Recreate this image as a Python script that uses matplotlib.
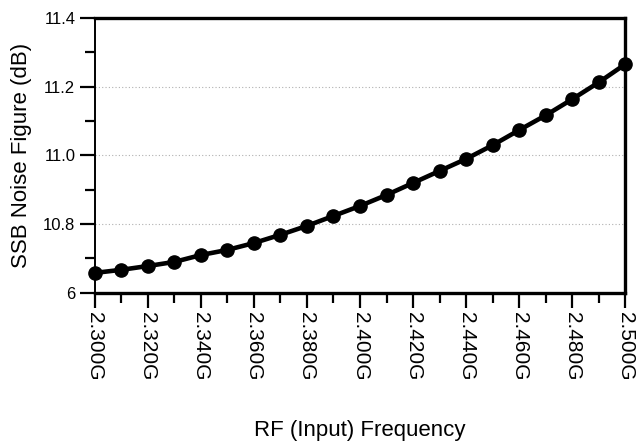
import matplotlib

matplotlib.use("Agg")
import matplotlib.pyplot as plt
from matplotlib.ticker import FixedLocator, MultipleLocator

plt.rcParams["font.family"] = ["Liberation Sans", "DejaVu Sans"]

# RF frequency in GHz and SSB noise figure in dB
freq_ghz = [2.30, 2.31, 2.32, 2.33, 2.34, 2.35, 2.36, 2.37, 2.38, 2.39, 2.40,
            2.41, 2.42, 2.43, 2.44, 2.45, 2.46, 2.47, 2.48, 2.49, 2.50]
nf_db = [10.658, 10.667, 10.678, 10.690, 10.710, 10.725, 10.745, 10.769,
         10.795, 10.824, 10.853, 10.885, 10.920, 10.955, 10.990, 11.030,
         11.074, 11.117, 11.164, 11.213, 11.266]

x_ticks = [2.30, 2.32, 2.34, 2.36, 2.38, 2.40, 2.42, 2.44, 2.46, 2.48, 2.50]
x_labels = ["2.300G", "2.320G", "2.340G", "2.360G", "2.380G", "2.400G",
            "2.420G", "2.440G", "2.460G", "2.480G", "2.500G"]
y_ticks = [10.6, 10.8, 11.0, 11.2, 11.4]
y_labels = ["6", "10.8", "11.0", "11.2", "11.4"]

fig = plt.figure(figsize=(6.4, 4.43), dpi=100)
ax = fig.add_axes([0.148, 0.339, 0.829, 0.62])

ax.plot(freq_ghz, nf_db, color="black", lw=3.3, marker="o", ms=9.5,
        markerfacecolor="black", markeredgecolor="black", zorder=3,
        clip_on=False)

ax.set_xlim(2.30, 2.50)
ax.set_ylim(10.6, 11.4)

ax.xaxis.set_major_locator(FixedLocator(x_ticks))
ax.set_xticklabels(x_labels, rotation=270, va="top", ha="center", fontsize=15)
ax.xaxis.set_minor_locator(MultipleLocator(0.01))
ax.yaxis.set_major_locator(FixedLocator(y_ticks))
ax.set_yticklabels(y_labels, fontsize=12)
ax.yaxis.set_minor_locator(MultipleLocator(0.1))

ax.tick_params(axis="both", which="major", direction="out", length=11,
               width=1.6, color="black", pad=3)
ax.tick_params(axis="both", which="minor", direction="out", length=7,
               width=1.6, color="black")

for side in ["top", "right", "bottom"]:
    ax.spines[side].set_linewidth(2.4)
ax.spines["left"].set_linewidth(1.4)

for yv in [10.8, 11.0, 11.2]:
    ax.axhline(yv, color="#b0b0b0", lw=0.8, ls=(0, (1, 2)), zorder=1)

ax.set_ylabel("SSB Noise Figure (dB)", fontsize=16, labelpad=8)
ax.set_xlabel("RF (Input) Frequency", fontsize=16, labelpad=28)

fig.savefig("out.png", dpi=100)
